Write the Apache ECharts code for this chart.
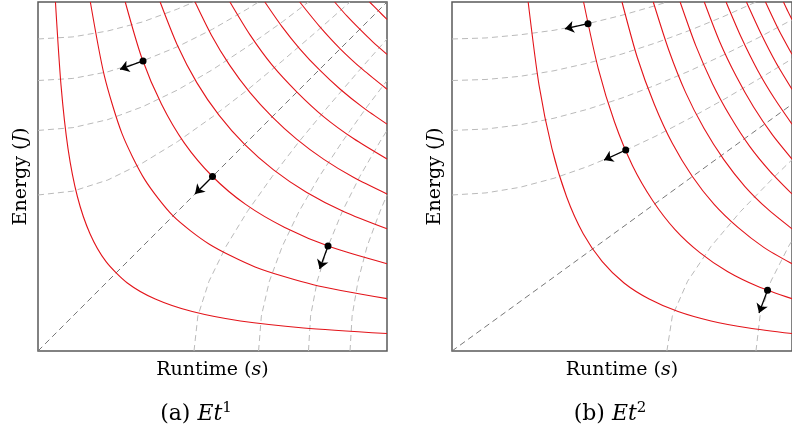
<!DOCTYPE html>
<html><head><meta charset="utf-8">
<script src="https://cdn.jsdelivr.net/npm/echarts@6/dist/echarts.min.js"></script>
<style>html,body{margin:0;padding:0;background:#fff}#c{width:792px;height:435px}</style>
</head><body><div id="c"></div>
<script>
// ---------- data (axis units 0..10) ----------
const xLabelText = 'Runtime', xUnit = 's';
const yLabelText = 'Energy', yUnit = 'J';
const captionTags = ['(a) ', '(b) '];
const captionExps = ['1', '2'];

// Panel (a): red iso-curves of E*t
const redA = [
  [[0.5,10],[0.66,7.61],[0.86,5.8],[1.13,4.42],[1.49,3.36],[1.95,2.56],[2.56,1.95],[3.36,1.49],[4.42,1.13],[5.8,0.86],[7.61,0.66],[10,0.5]],
  [[1.5,10],[1.9,7.89],[2.41,6.22],[3.06,4.91],[3.87,3.87],[4.91,3.06],[6.22,2.41],[7.89,1.9],[10,1.5]],
  [[2.5,10],[2.97,8.41],[3.54,7.07],[4.2,5.95],[5,5],[5.95,4.2],[7.07,3.54],[8.41,2.97],[10,2.5]],
  [[3.5,10],[3.99,8.77],[4.55,7.69],[5.19,6.75],[5.92,5.92],[6.75,5.19],[7.69,4.55],[8.77,3.99],[10,3.5]],
  [[4.5,10],[4.97,9.05],[5.49,8.19],[6.07,7.41],[6.71,6.71],[7.41,6.07],[8.19,5.49],[9.05,4.97],[10,4.5]],
  [[5.5,10],[6.08,9.05],[6.71,8.19],[7.42,7.42],[8.19,6.71],[9.05,6.08],[10,5.5]],
  [[6.5,10],[6.98,9.31],[7.5,8.66],[8.06,8.06],[8.66,7.5],[9.31,6.98],[10,6.5]],
  [[7.5,10],[8.06,9.31],[8.66,8.66],[9.31,8.06],[10,7.5]],
  [[8.5,10],[8.85,9.6],[9.22,9.22],[9.6,8.85],[10,8.5]],
  [[9.5,10],[9.75,9.75],[10,9.5]]
];
// Panel (a): light gray dashed orthogonal curves
const grayA = [
  [[0,8.94],[1,9],[2,9.17],[3,9.43],[4,9.8],[4.47,10]],
  [[0,7.75],[1,7.81],[2,8],[3,8.31],[4,8.72],[5,9.22],[6,9.8],[6.32,10]],
  [[0,6.32],[1,6.4],[2,6.63],[3,7],[4,7.48],[5,8.06],[6,8.72],[7,9.43],[7.75,10]],
  [[0,4.47],[1,4.58],[2,4.9],[3,5.39],[4,6],[5,6.71],[6,7.48],[7,8.31],[8,9.17],[8.94,10]],
  [[4.47,0],[4.58,1],[4.9,2],[5.39,3],[6,4],[6.71,5],[7.48,6],[8.31,7],[9.17,8],[10,8.94]],
  [[6.32,0],[6.4,1],[6.63,2],[7,3],[7.48,4],[8.06,5],[8.72,6],[9.43,7],[10,7.75]],
  [[7.75,0],[7.81,1],[8,2],[8.31,3],[8.72,4],[9.22,5],[9.8,6],[10,6.32]],
  [[8.94,0],[9,1],[9.17,2],[9.43,3],[9.8,4],[10,4.47]]
];
const diagA = [[0,0],[10,10]];
const dotsA = [[3.01,8.31],[5,5],[8.31,3.01]];
const tipsA = [[2.35,8.07],[4.5,4.5],[8.07,2.35]];

// Panel (b): red iso-curves of E*t^2
const redB = [
  [[2.24,10],[2.56,7.62],[2.94,5.8],[3.37,4.42],[3.86,3.36],[4.42,2.56],[5.06,1.95],[5.8,1.49],[6.65,1.13],[7.62,0.86],[8.73,0.66],[10,0.5]],
  [[3.87,10],[4.3,8.1],[4.78,6.56],[5.31,5.31],[5.91,4.3],[6.56,3.48],[7.29,2.82],[8.1,2.28],[9,1.85],[10,1.5]],
  [[5,10],[5.45,8.41],[5.95,7.07],[6.48,5.95],[7.07,5],[7.71,4.2],[8.41,3.54],[9.17,2.97],[10,2.5]],
  [[5.92,10],[6.38,8.61],[6.87,7.41],[7.41,6.38],[7.99,5.49],[8.61,4.72],[9.28,4.07],[10,3.5]],
  [[6.71,10],[7.17,8.75],[7.66,7.66],[8.19,6.71],[8.75,5.87],[9.36,5.14],[10,4.5]],
  [[7.42,10],[7.87,8.87],[8.36,7.87],[8.87,6.99],[9.42,6.2],[10,5.5]],
  [[8.06,10],[8.51,8.98],[8.98,8.06],[9.48,7.24],[10,6.5]],
  [[8.66,10],[9.09,9.09],[9.53,8.26],[10,7.5]],
  [[9.22,10],[9.6,9.22],[10,8.5]],
  [[9.75,10],[9.87,9.75],[10,9.5]]
];
const grayB = [
  [[0,8.94],[1,8.97],[2,9.06],[3,9.19],[4,9.38],[5,9.62],[6,9.9],[6.32,10]],
  [[0,7.75],[1,7.78],[2,7.87],[3,8.03],[4,8.25],[5,8.51],[6,8.83],[7,9.19],[8,9.59],[8.94,10]],
  [[0,6.32],[1,6.36],[2,6.48],[3,6.67],[4,6.93],[5,7.25],[6,7.62],[7,8.03],[8,8.49],[9,8.97],[10,9.49]],
  [[0,4.47],[1,4.53],[2,4.69],[3,4.95],[4,5.29],[5,5.7],[6,6.16],[7,6.67],[8,7.21],[9,7.78],[10,8.37]],
  [[6.32,0],[6.48,1],[6.93,2],[7.62,3],[8.49,4],[9.49,5],[10,5.48]],
  [[8.94,0],[9.06,1],[9.38,2],[9.9,3],[10,3.16]]
];
const diagB = [[0,0],[10,7.07]];
const dotsB = [[4,9.38],[5.11,5.76],[9.28,1.74]];
const tipsB = [[3.32,9.23],[4.47,5.47],[9.03,1.09]];

// ---------- chart ----------
const SERIF = 'DejaVu Serif';
const FS = 19;
const rich = {
  r: {fontFamily: SERIF, fontSize: FS, color: '#000', lineHeight: 22},
  i: {fontFamily: SERIF, fontSize: FS, color: '#000', fontStyle: 'italic', lineHeight: 22}
};
const capRich = {
  r: {fontFamily: SERIF, fontSize: 22, color: '#000', lineHeight: 26},
  i: {fontFamily: SERIF, fontSize: 22, color: '#000', fontStyle: 'italic', lineHeight: 26},
  s: {fontFamily: SERIF, fontSize: 15, color: '#000', lineHeight: 15, verticalAlign: 'top'}
};
const panels = [
  {red: redA, gray: grayA, diag: diagA, dots: dotsA, tips: tipsA, left: 38, capX: 196},
  {red: redB, gray: grayB, diag: diagB, dots: dotsB, tips: tipsB, left: 452, capX: 610}
];
const grid = [], xAxis = [], yAxis = [], series = [], graphic = [];
panels.forEach((p, k) => {
  grid.push({left: p.left, top: 2, width: 349, height: 349, show: true,
    borderColor: '#5a5a5a', borderWidth: 1.5, backgroundColor: 'transparent'});
  const hidden = {axisLine: {show: false}, axisTick: {show: false}, axisLabel: {show: false}, splitLine: {show: false}};
  xAxis.push(Object.assign({gridIndex: k, type: 'value', min: 0, max: 10,
    name: '{r|' + xLabelText + ' (}{i|' + xUnit + '}{r|)}', nameLocation: 'middle', nameGap: 8,
    nameTextStyle: {rich}}, hidden));
  yAxis.push(Object.assign({gridIndex: k, type: 'value', min: 0, max: 10,
    name: '{r|' + yLabelText + ' (}{i|' + yUnit + '}{r|)}', nameLocation: 'middle', nameGap: 6,
    nameTextStyle: {rich}}, hidden));
  const base = {type: 'line', xAxisIndex: k, yAxisIndex: k, showSymbol: false, symbol: 'none',
    silent: true, animation: false};
  p.gray.forEach(c => series.push(Object.assign({}, base, {data: c,
    lineStyle: {color: '#bababa', width: 1, type: [6, 4]}})));
  series.push(Object.assign({}, base, {data: p.diag,
    lineStyle: {color: '#777777', width: 1, type: [6, 4]}}));
  p.red.forEach(c => series.push(Object.assign({}, base, {data: c, smooth: 0.25,
    lineStyle: {color: '#e3141a', width: 1.1}})));
  series.push({type: 'lines', coordinateSystem: 'cartesian2d', xAxisIndex: k, yAxisIndex: k,
    silent: true, animation: false, symbol: ['none', 'arrow'], symbolSize: [6, 9], z: 5,
    lineStyle: {color: '#000', width: 1.3, opacity: 1},
    data: p.dots.map((d, i) => ({coords: [d, p.tips[i]]}))});
  series.push({type: 'scatter', xAxisIndex: k, yAxisIndex: k, silent: true, animation: false, z: 6,
    symbolSize: 7, itemStyle: {color: '#000', opacity: 1}, data: p.dots});
  graphic.push({type: 'text', x: p.capX, y: 414, style: {
    text: '{r|' + captionTags[k] + '}{i|Et}{s|' + captionExps[k] + '}',
    rich: capRich, align: 'center', verticalAlign: 'middle'}});
});
const chart = echarts.init(document.getElementById('c'), null, {renderer: 'canvas'});
chart.setOption({animation: false, grid, xAxis, yAxis, series, graphic});
</script></body></html>
